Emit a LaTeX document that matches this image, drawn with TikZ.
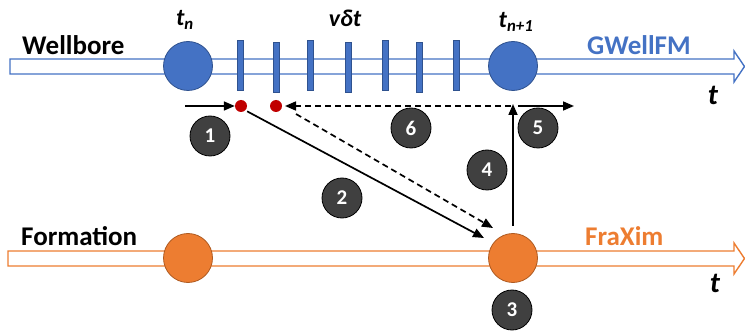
\documentclass[tikz,border=0pt]{standalone}
\usepackage{fontspec}
\setmainfont{Carlito}
\usetikzlibrary{arrows.meta}
\definecolor{wblue}{HTML}{4472C4}
\definecolor{wblueedge}{HTML}{2F528F}
\definecolor{forange}{HTML}{ED7D31}
\definecolor{forangeedge}{HTML}{AE5A21}
\definecolor{stepgray}{HTML}{404040}
\definecolor{dotred}{HTML}{C00000}
\tikzset{
  band/.style={line width=1.4pt, fill=white},
  wellnode/.style={circle, fill=wblue, draw=wblueedge, line width=0.8pt, minimum size=49pt, inner sep=0pt},
  formnode/.style={circle, fill=forange, draw=forangeedge, line width=0.8pt, minimum size=49pt, inner sep=0pt},
  substep/.style={fill=wblue, draw=wblueedge, line width=0.6pt},
  reddot/.style={circle, fill=dotred, minimum size=12pt, inner sep=0pt},
  stepnum/.style={circle, fill=stepgray, draw=black, line width=0.8pt, minimum size=40pt, inner sep=0pt,
    text=white, font=\fontsize{21}{24}\selectfont\bfseries},
  lbl/.style={font=\fontsize{27}{32}\selectfont\bfseries, inner sep=0pt},
  tlbl/.style={font=\fontsize{24}{28}\selectfont\bfseries\itshape, inner sep=0pt},
  axislbl/.style={font=\fontsize{29}{34}\selectfont\bfseries\itshape, inner sep=0pt},
  flow/.style={line width=1.7pt, -{Triangle[length=11pt,width=9pt]}},
  flowdash/.style={flow, dash pattern=on 6pt off 4pt},
}
\begin{document}
\begin{tikzpicture}[x=1pt, y={(0,-1pt)}]
\useasboundingbox (0,0) rectangle (745,334);

% time axes as hollow arrows
\draw[band, draw=wblue] (10,59) -- (734,59) -- (734,51) -- (744.5,66.5) -- (734,82) -- (734,74) -- (10,74) -- cycle;
\draw[band, draw=forange] (8,251) -- (734,251) -- (734,243) -- (744.5,258.5) -- (734,274) -- (734,266) -- (8,266) -- cycle;

% sub-steps of the wellbore model
\foreach \x/\ya/\yb in {240/40/90, 276/42/92, 310/40/90, 348/42/92, 385/40/90, 419/42/92, 456/40/90}
  \draw[substep] (\x-3,\ya) rectangle (\x+3,\yb);

% time levels
\node[wellnode] (wn) at (188,66) {};
\node[wellnode] (wn1) at (513,66) {};
\node[formnode] (fn) at (188,258) {};
\node[formnode] (fn1) at (513,258) {};

% labels
\node[lbl, anchor=base west] (wlab) at (22,55) {Wellbore};
\node[lbl, anchor=base west, text=wblue] (glab) at (587,55) {GWellFM};
\node[lbl, anchor=base west] (flab) at (21,246) {Formation};
\node[lbl, anchor=base west, text=forange] (xlab) at (585,246) {FraXim};
\node[tlbl] (tn) at (185,20) {t\textsubscript{n}};
\node[tlbl] (vdt) at (345,18) {vδt};
\node[tlbl] (tn1) at (516,22) {t\textsubscript{n+1}};
\node[axislbl] (tw) at (713,95) {t};
\node[axislbl] (tf) at (715,283) {t};

% exchange points
\node[reddot] (d1) at (241,106) {};
\node[reddot] (d2) at (276,106) {};

% connector end points
\coordinate (s1) at (185,106);
\coordinate (e2) at (484,238);
\coordinate (s6) at (511,106);
\coordinate (e6a) at (285,106);
\coordinate (s6b) at (296,114);
\coordinate (e6b) at (493,228);
\coordinate (s4) at (513,226);
\coordinate (e4) at (513,104);
\coordinate (s5) at (518,106);
\coordinate (e5) at (574,106);

% connectors
\draw[flow] (s1) -- (d1.west);
\draw[flow, shorten <=2pt] (d1.south east) -- (e2);
\draw[flowdash] (s6) -- (e6a);
\draw[flowdash] (s6b) -- (e6b);
\draw[flow] (s4) -- (e4);
\draw[flow] (s5) -- (e5);

% step numbers
\node[stepnum] (n1) at (210,136) {1};
\node[stepnum] (n2) at (342,198) {2};
\node[stepnum] (n3) at (512,310) {3};
\node[stepnum] (n4) at (487,170) {4};
\node[stepnum] (n5) at (538,128) {5};
\node[stepnum] (n6) at (411,128) {6};
\end{tikzpicture}
\end{document}
